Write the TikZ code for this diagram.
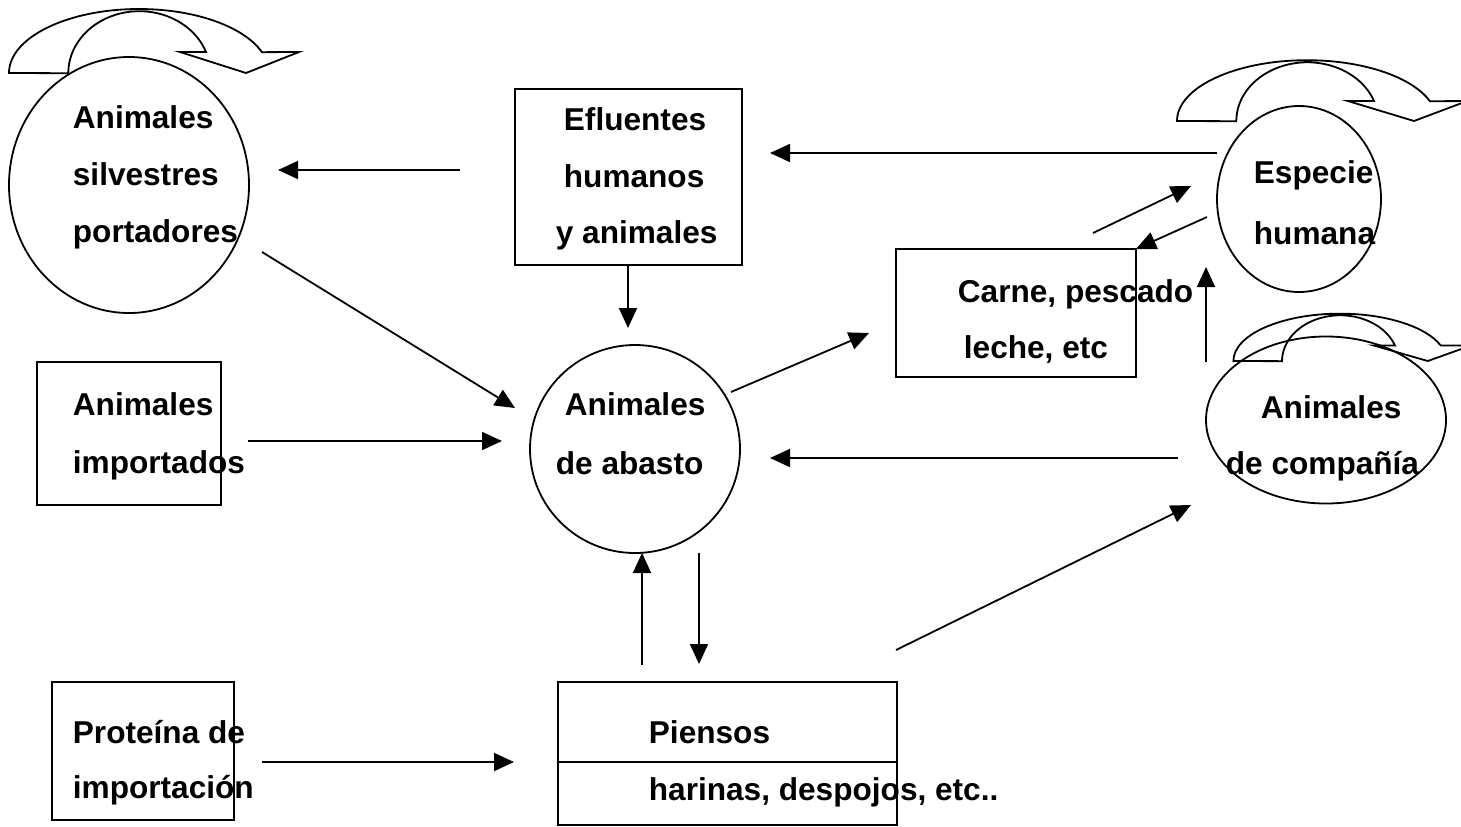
\documentclass[tikz,border=0pt]{standalone}
\usepackage{fontspec}
\setmainfont{Liberation Sans}
\usetikzlibrary{arrows.meta,shapes.geometric}
\begin{document}
\begin{tikzpicture}[x=0.5pt,y=-0.5pt,
  line width=0.9pt,
  lbl/.style={anchor=base west,inner sep=0pt,font=\fontsize{15.8}{19}\selectfont\bfseries},
  oval/.style={draw,ellipse,inner sep=0pt,outer sep=0pt},
  box/.style={draw,rectangle,inner sep=0pt,outer sep=0pt},
  arr/.style={-{Triangle[length=10pt,width=9pt]}},
  curl/.pic={\draw[line join=miter] (-130,0) arc[start angle=180,end angle=341,x radius=130,y radius=64]
      -- (160,-21) -- (107,0) -- (41,-21) -- (67,-21)
      arc[start angle=340,end angle=180,x radius=71,y radius=62] -- cycle;}]
\useasboundingbox (0,0) rectangle (1461,826);

% shapes
\node[oval,minimum width=120pt,minimum height=128pt] (silv) at (129,185) {};
\node[box,minimum width=113.5pt,minimum height=88pt] (eflu) at (628.5,177) {};
\node[oval,minimum width=105pt,minimum height=104pt] (abasto) at (635,449) {};
\node[box,minimum width=92pt,minimum height=71.5pt] (impo) at (129,433.5) {};
\node[box,minimum width=120pt,minimum height=64pt] (carne) at (1016,313) {};
\node[oval,minimum width=82pt,minimum height=93pt] (especie) at (1299,199) {};
\node[oval,minimum width=120pt,minimum height=83.5pt] (compania) at (1326,420) {};
\node[box,minimum width=91pt,minimum height=69pt] (prot) at (143,751) {};
\node[box,minimum width=169.5pt,minimum height=71.5pt] (piensos) at (727.5,753.5) {};
\coordinate (div) at (0,762);
\draw (piensos.west |- div) -- (piensos.east |- div);

% curved arrows
\pic at (139,73) {curl};
\pic[yscale=0.95] at (1307,121) {curl};
\pic[xscale=0.82,yscale=0.74] at (1340,361) {curl};

% labels
\node[lbl] (s1) at (72,128) {Animales};
\node[lbl] (s2) at (72,185) {silvestres};
\node[lbl] (s3) at (72,242) {portadores};
\node[lbl] (e1) at (563,130) {Efluentes};
\node[lbl] (e2) at (563,187) {humanos};
\node[lbl] (e3) at (555,243) {y animales};
\node[lbl] (b1) at (564,415) {Animales};
\node[lbl] (b2) at (555,474) {de abasto};
\node[lbl] (i1) at (72,415) {Animales};
\node[lbl] (i2) at (72,473) {importados};
\node[lbl] (c1) at (957,302) {Carne, pescado};
\node[lbl] (c2) at (963,358) {leche, etc};
\node[lbl] (h1) at (1253,183) {Especie};
\node[lbl] (h2) at (1253,244) {humana};
\node[lbl] (p1) at (1260,418) {Animales};
\node[lbl] (p2) at (1225,474) {de compañía};
\node[lbl] (r1) at (72,743) {Proteína de};
\node[lbl] (r2) at (72,798) {importación};
\node[lbl] (f1) at (648,743) {Piensos};
\node[lbl] (f2) at (648,800) {harinas, despojos, etc..};

% arrow end points
\coordinate (a1s) at (460,170);  \coordinate (a1e) at (278,170);
\coordinate (a2s) at (1217,153); \coordinate (a2e) at (770,153);
\coordinate (a3s) at (628,265);  \coordinate (a3e) at (628,328);
\coordinate (a4s) at (262,252);  \coordinate (a4e) at (515,408);
\coordinate (a5s) at (248,441);  \coordinate (a5e) at (502,441);
\coordinate (a6s) at (731,392);  \coordinate (a6e) at (869,333);
\coordinate (a7s) at (1093,233); \coordinate (a7e) at (1191,186);
\coordinate (a8s) at (1207,217);
\coordinate (a9s) at (1206,362); \coordinate (a9e) at (1206,267);
\coordinate (a10s) at (1178,458); \coordinate (a10e) at (770,458);
\coordinate (a11s) at (896,650); \coordinate (a11e) at (1191,505);
\coordinate (a12s) at (642,665); \coordinate (a12e) at (642,553);
\coordinate (a13s) at (699,553); \coordinate (a13e) at (699,664);
\coordinate (a14s) at (262,762); \coordinate (a14e) at (514,762);

% connectors
\draw[arr] (a1s) -- (a1e);
\draw[arr] (a2s) -- (a2e);
\draw[arr] (a3s) -- (a3e);
\draw[arr] (a4s) -- (a4e);
\draw[arr] (a5s) -- (a5e);
\draw[arr] (a6s) -- (a6e);
\draw[arr] (a7s) -- (a7e);
\draw[arr] (a8s) -- (carne.north east);
\draw[arr] (a9s) -- (a9e);
\draw[arr] (a10s) -- (a10e);
\draw[arr] (a11s) -- (a11e);
\draw[arr] (a12s) -- (a12e);
\draw[arr] (a13s) -- (a13e);
\draw[arr] (a14s) -- (a14e);
\end{tikzpicture}
\end{document}
